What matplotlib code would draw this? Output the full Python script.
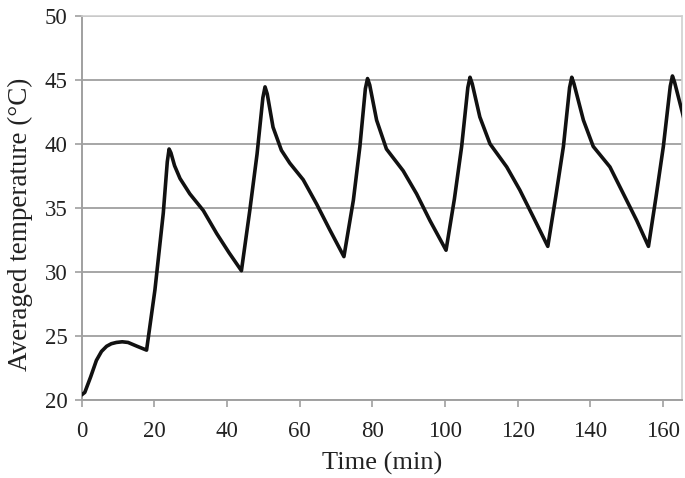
import matplotlib
matplotlib.use("Agg")
import matplotlib.pyplot as plt

# time (min) and averaged temperature (degC)
time_min = [0, 0.9, 2.5, 4.1, 5.5, 6.9, 8.2, 9.6, 11.2, 12.8, 15.3, 17.9,
            20.2, 22.5, 23.6, 24.1, 24.6, 25.6, 27.1, 29.8, 33.5, 37.2, 40.6, 44.0,
            46.3, 48.3, 49.9, 50.5, 51.1, 52.7, 55.0, 57.3, 61.0, 64.7, 68.3, 72.2,
            74.8, 76.6, 78.1, 78.7, 79.3, 81.2, 83.9, 88.5, 92.2, 95.9, 100.3,
            102.6, 104.6, 106.3, 106.9, 107.5, 109.6, 112.4, 117.0, 120.6, 124.3, 128.3,
            130.5, 132.6, 134.3, 134.9, 135.5, 138.1, 140.8, 145.4, 149.1, 152.8, 156.0,
            158.1, 160.1, 162.0, 162.6, 163.2, 166.0]
temp_c = [20.4, 20.6, 21.8, 23.1, 23.8, 24.2, 24.4, 24.5, 24.55, 24.5, 24.2, 23.9,
          28.6, 34.6, 38.6, 39.6, 39.3, 38.3, 37.3, 36.1, 34.8, 33.0, 31.5, 30.1,
          34.8, 39.2, 43.6, 44.45, 43.9, 41.3, 39.5, 38.5, 37.2, 35.3, 33.3, 31.2,
          35.6, 39.8, 44.3, 45.1, 44.6, 41.85, 39.6, 37.9, 36.1, 34.0, 31.7,
          35.7, 39.8, 44.4, 45.2, 44.7, 42.1, 40.0, 38.2, 36.4, 34.3, 32.0,
          35.9, 39.8, 44.4, 45.2, 44.7, 41.85, 39.8, 38.2, 36.1, 34.0, 32.0,
          35.9, 39.8, 44.5, 45.3, 44.8, 41.7]

x_ticks = [0, 20, 40, 60, 80, 100, 120, 140, 160]
y_ticks = [20, 25, 30, 35, 40, 45, 50]

plt.rcParams["font.family"] = ["Liberation Serif", "DejaVu Serif"]

fig = plt.figure(figsize=(6.85, 4.78), dpi=100)
ax = fig.add_axes([0.119, 0.163, 0.877, 0.804])

ax.plot(time_min, temp_c, color="#111111", lw=2.6, solid_joinstyle="round",
        solid_capstyle="round", zorder=3)

ax.set_xlim(0, 165.3)
ax.set_ylim(20, 50)
ax.set_xticks(x_ticks)
ax.set_yticks(y_ticks)
ax.yaxis.grid(True, color="#a6a6a6", lw=1.4)
ax.set_axisbelow(True)

for side in ["left", "bottom"]:
    ax.spines[side].set_color("#a0a0a0")
    ax.spines[side].set_linewidth(1.4)
for side in ["top", "right"]:
    ax.spines[side].set_color("#d0d0d0")
    ax.spines[side].set_linewidth(1.2)

ax.tick_params(axis="both", labelsize=16.5, colors="#a0a0a0", labelcolor="#222222",
               length=5, width=1.2, direction="out")
ax.tick_params(axis="x", pad=10)
ax.tick_params(axis="y", pad=5)

ax.set_xlabel("Time (min)", fontsize=19, color="#222222", labelpad=7)
ax.set_ylabel("Averaged temperature (°C)", fontsize=19.5, color="#222222")
ax.yaxis.set_label_coords(-0.081, 0.458)

fig.savefig("out.png", dpi=100)
